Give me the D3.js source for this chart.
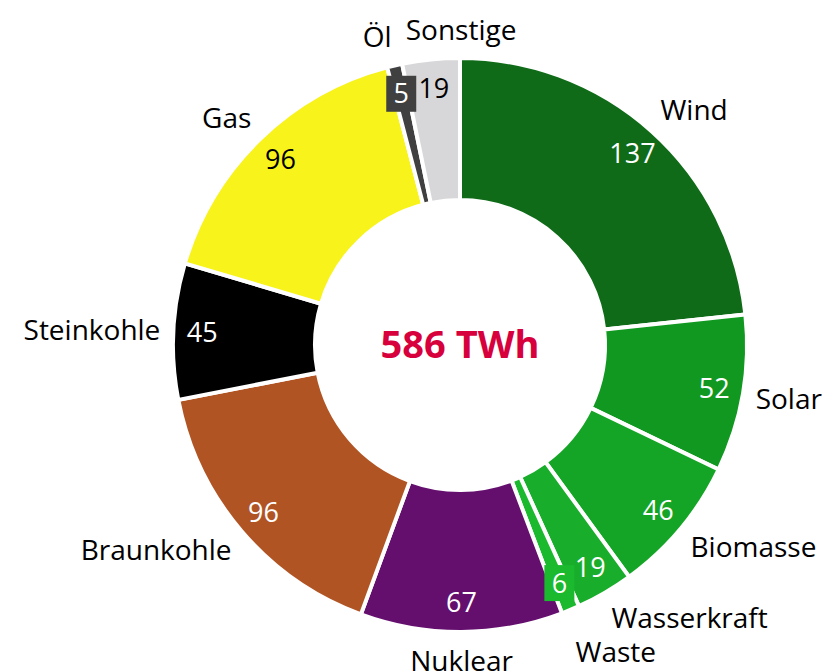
<!DOCTYPE html>
<html>
<head>
<meta charset="utf-8">
<script src="https://cdn.jsdelivr.net/npm/d3@7"></script>
<style>
  body { margin: 0; background: #fff; }
  svg text { font-family: "Open Sans", "Noto Sans", sans-serif; }
</style>
</head>
<body>
<svg id="donut" width="827" height="671"></svg>
<script>
var names = ["Wind", "Solar", "Biomasse", "Wasserkraft", "Waste", "Nuklear",
             "Braunkohle", "Steinkohle", "Gas", "Öl", "Sonstige"];
var values = [137, 52, 46, 19, 6, 67, 96, 45, 96, 5, 19];
var colors = ["#0f6b18", "#119820", "#15a526", "#18ad2a", "#1ab92e", "#640e6e",
              "#b15424", "#000000", "#f8f31b", "#404040", "#d7d7d9"];
var totalLabel = "586 TWh";

/* draw the donut */
function donutChart() {
    var cx = 460, cy = 345;
    var outer = 287, inner = 145;

    var svg = d3.select("#donut")
        .append("g")
        .attr("transform", "translate(" + cx + "," + cy + ")");

    var data = names.map((n, i) => ({name: n, value: values[i], color: colors[i]}));

    var pie = d3.pie().sort(null).value(d => d.value);
    var arcs = pie(data);

    var arc = d3.arc().innerRadius(inner).outerRadius(outer);

    svg.selectAll("path.slice")
        .data(arcs)
        .join("path")
        .attr("class", "slice")
        .attr("d", arc)
        .attr("fill", d => d.data.color)
        .attr("stroke", "#fff")
        .attr("stroke-width", 4);

    var valueArc = d3.arc().innerRadius(258).outerRadius(258);
    var nameArc = d3.arc().innerRadius(300).outerRadius(300);

    // small slices get a boxed label
    var small = d => d.value < 10;

    var vl = svg.selectAll("g.value")
        .data(arcs)
        .join("g")
        .attr("class", "value")
        .attr("transform", d => "translate(" + valueArc.centroid(d) + ")");

    vl.filter(d => small(d.data))
        .append("rect")
        .attr("x", -15)
        .attr("y", -18)
        .attr("width", 30)
        .attr("height", 36)
        .attr("fill", d => d.data.color);

    vl.append("text")
        .attr("text-anchor", "middle")
        .attr("dy", "0.35em")
        .attr("font-size", 27)
        .attr("fill", d => d.data.name == "Sonstige" || d.data.name == "Gas" ? "#000" : "#fff")
        .text(d => d.data.value);

    /* category names around the ring */
    var labels = svg.selectAll("text.name")
        .data(arcs)
        .join("text")
        .attr("class", "name")
        .attr("font-size", 28)
        .attr("fill", "#000")
        .attr("dy", "0.35em")
        .text(d => d.data.name);

    labels.each(function(d) {
        var a = (d.startAngle + d.endAngle) / 2;
        var c = nameArc.centroid(d);
        d.lx = c[0];
        d.ly = c[1] - Math.cos(a) * 16;
        var s = Math.sin(a);
        d.anchor = Math.abs(s) < 0.05 ? "middle" : (s > 0 ? "start" : "end");
        d3.select(this)
            .attr("x", d.lx).attr("y", d.ly)
            .attr("text-anchor", d.anchor);
    });

    // simple collision pass against the previous label
    var nodes = labels.nodes();
    for (var i = 1; i < nodes.length; i++) {
        var prev = nodes[i - 1].getBBox();
        var cur = nodes[i].getBBox();
        var d = d3.select(nodes[i]).datum();
        var overlap = cur.x < prev.x + prev.width && prev.x < cur.x + cur.width &&
                      cur.y < prev.y + prev.height && prev.y < cur.y + cur.height;
        if (!overlap) continue;
        if (d.ly > 0) {
            d.ly = d.ly + (prev.y + prev.height - cur.y) - 4;
            d3.select(nodes[i]).attr("y", d.ly);
        } else {
            d.anchor = "start";
            d.lx = prev.x + prev.width + 14;
            d3.select(nodes[i]).attr("x", d.lx).attr("text-anchor", "start");
        }
    }

    /* center total */
    svg.append("text")
        .attr("text-anchor", "middle")
        .attr("dy", "0.35em")
        .attr("font-size", 38)
        .attr("font-weight", "bold")
        .attr("fill", "#d7003c")
        .text(totalLabel);

    return svg;
}
donutChart();
</script>
</body>
</html>
